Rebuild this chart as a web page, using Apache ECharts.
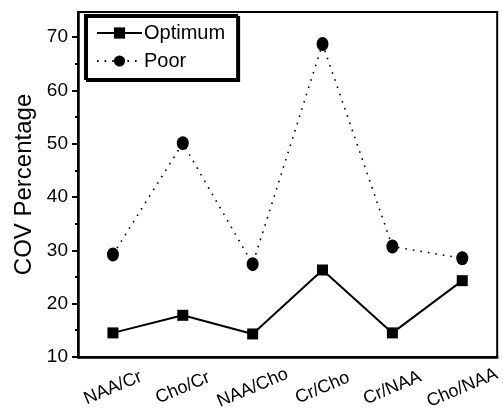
<!DOCTYPE html>
<html>
<head>
<meta charset="utf-8">
<script src="https://cdn.jsdelivr.net/npm/echarts@6/dist/echarts.min.js"></script>
<style>
  html, body { margin: 0; padding: 0; background: #fff; }
  #chart { width: 503px; height: 412px; }
</style>
</head>
<body>
<div id="chart"></div>
<script>
// data
const categories = ['NAA/Cr', 'Cho/Cr', 'NAA/Cho', 'Cr/Cho', 'Cr/NAA', 'Cho/NAA'];
const optimum = [14.5, 17.8, 14.3, 26.3, 14.5, 24.3];
const poor = [29.2, 50.1, 27.4, 68.7, 30.7, 28.5];
const majorTicks = [10, 20, 30, 40, 50, 60, 70];
const minorTicks = [15, 25, 35, 45, 55, 65];

const chart = echarts.init(document.getElementById('chart'));

const yBase = {
  type: 'value',
  min: 10,
  max: 74.7,
  splitLine: { show: false },
};

const option = {
  backgroundColor: '#fff',
  animation: false,
  textStyle: { fontFamily: 'Liberation Sans, Arial, sans-serif', color: '#000' },
  grid: {
    left: 78,
    right: 5,
    top: 12,
    bottom: 54,
    show: true,
    borderColor: '#000',
    borderWidth: 2,
  },
  legend: {
    left: 85,
    top: 15,
    orient: 'vertical',
    itemWidth: 45,
    itemHeight: 14,
    itemGap: 8,
    padding: [8, 12, 8, 11],
    backgroundColor: '#fff',
    borderColor: '#000',
    borderWidth: 2,
    shadowColor: '#000',
    shadowOffsetX: 2,
    shadowOffsetY: 2,
    shadowBlur: 0,
    textStyle: { fontSize: 20, color: '#000', padding: [0, 0, 0, -3] },
    data: ['Optimum', 'Poor'],
  },
  xAxis: {
    type: 'category',
    data: categories,
    boundaryGap: true,
    axisLine: { lineStyle: { color: '#000', width: 2.5 } },
    axisTick: { alignWithLabel: true, length: 6, lineStyle: { width: 2 } },
    axisLabel: {
      rotate: 23,
      align: 'center',
      verticalAlign: 'middle',
      margin: 31,
      fontSize: 18,
      fontFamily: 'Liberation Sans Narrow, Arial Narrow, sans-serif',
      color: '#000',
    },
  },
  yAxis: [
    {
      ...yBase,
      name: 'COV Percentage',
      nameLocation: 'middle',
      nameGap: 38,
      nameTextStyle: { fontSize: 24, color: '#000' },
      axisLine: { show: true, lineStyle: { color: '#000', width: 2.5 } },
      axisTick: { show: true, length: 6, customValues: majorTicks, lineStyle: { width: 2 } },
      axisLabel: { customValues: majorTicks, fontSize: 19, margin: 10, color: '#000' },
    },
    {
      ...yBase,
      position: 'left',
      axisLine: { show: false },
      axisTick: { show: true, length: 3, customValues: minorTicks, lineStyle: { color: '#000', width: 2 } },
      axisLabel: { show: false },
    },
  ],
  series: [
    {
      name: 'Optimum',
      type: 'line',
      data: optimum,
      symbol: 'rect',
      symbolSize: 11,
      itemStyle: { color: '#000' },
      lineStyle: { color: '#000', width: 2 },
    },
    {
      name: 'Poor',
      type: 'line',
      data: poor,
      symbol: 'circle',
      symbolSize: [12, 14],
      itemStyle: { color: '#000' },
      lineStyle: { color: '#000', width: 1.6, type: [1.6, 6] },
    },
  ],
};

chart.setOption(option);
</script>
</body>
</html>
